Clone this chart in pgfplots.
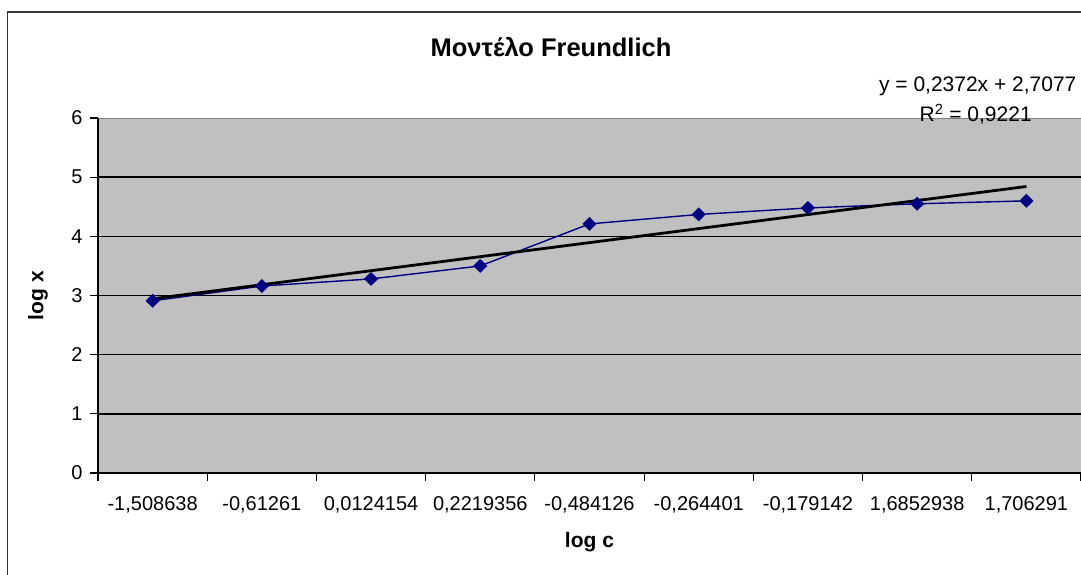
\documentclass[border=0pt]{standalone}
\usepackage{fontspec}
\setmainfont{Liberation Sans}
\usepackage{pgfplots}
\pgfplotsset{compat=1.18}
\definecolor{plotgray}{HTML}{C0C0C0}
\definecolor{navyblue}{HTML}{000080}
\begin{document}
\begin{tikzpicture}
\begin{axis}[
  at={(0pt,0pt)}, anchor=south west,
  scale only axis, width=983pt, height=355pt,
  xmin=0.5, xmax=9.5, ymin=0, ymax=6,
  axis lines=left, axis line style={-, line width=1.5pt, black},
  axis background/.style={fill=plotgray, draw=gray},
  clip=false,
  tick align=outside,
  xtick={1,...,9},
  xticklabels={{-1,508638},{-0,61261},{0,0124154},{0,2219356},{-0,484126},{-0,264401},{-0,179142},{1,6852938},{1,706291}},
  major x tick style={draw=none},
  minor xtick={0.5,1.5,...,9.5},
  minor tick length=8pt, major tick length=8pt,
  tick style={line width=1.2pt, black},
  ytick={0,...,5},
  extra y ticks={6},
  extra y tick style={grid=none},
  ymajorgrids,
  grid style={black, line width=1.6pt},
  tick label style={font=\fontsize{20}{20}\selectfont},
  /pgf/number format/assume math mode=true,
  xticklabel style={yshift=-12pt},
  yticklabel style={xshift=-4pt},
  label style={font=\bfseries\fontsize{21}{21}\selectfont},
  xlabel={log c},
  ylabel={log x},
  xlabel style={at={(axis description cs:0.5,-0.196)}, anchor=center},
  ylabel style={at={(axis description cs:-0.061,0.5)}, anchor=center},
]
\addplot[color=navyblue, line width=1.4pt, mark=diamond*, mark size=6pt, mark options={fill=navyblue, solid, xscale=1.35}]
  coordinates {(1,2.91)(2,3.16)(3,3.28)(4,3.50)(5,4.21)(6,4.37)(7,4.48)(8,4.55)(9,4.60)};
\addplot[black, line width=2.8pt, no marks] coordinates {(1,2.9449)(9,4.8425)};
\end{axis}
\node[anchor=base, font=\bfseries\fontsize{25.5}{25.5}\selectfont] at (453pt,416.3pt) {Μοντέλο Freundlich};
\node[anchor=base east, font=\fontsize{21}{21}\selectfont, inner sep=0pt] at (978.6pt,381.3pt) {y = 0,2372x + 2,7077};
\node[anchor=base, font=\fontsize{21}{21}\selectfont, inner sep=0pt] at (877.7pt,351.3pt) {R\textsuperscript{2} = 0,9221};
\draw[line width=1.5pt, black!80] (-90.4pt,-150pt) rectangle (1100pt,461pt);
\pgfresetboundingbox
\useasboundingbox (-98pt,-101pt) rectangle (983pt,473pt);
\end{tikzpicture}
\end{document}
